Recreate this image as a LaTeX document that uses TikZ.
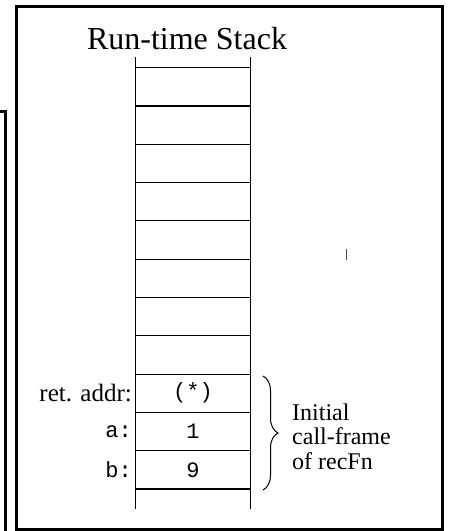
\documentclass[tikz,border=0pt]{standalone}
\usepackage{fontspec}
\setmainfont{Liberation Serif}
\setmonofont{Liberation Mono}
\usetikzlibrary{decorations.pathreplacing}
\tikzset{
    frame/.style={line width=3pt},
    ladder/.style={line width=1.1pt},
    slot/.style={font=\ttfamily\fontsize{22}{24}\selectfont},
    varname/.style={anchor=east,font=\ttfamily\fontsize{22}{24}\selectfont,inner sep=1pt},
    retname/.style={anchor=east,font=\fontsize{25}{28}\selectfont,inner sep=1pt},
    note/.style={anchor=base west,align=left,font=\fontsize{24}{24.5}\selectfont,inner sep=0pt}
}

\begin{document}
\begin{tikzpicture}[x=1pt,y=-1pt]
  \useasboundingbox (0,0) rectangle (450,531);
  % frames
  \draw[frame] (0,111) -- (5.5,111) -- (5.5,535);
  \draw[frame] (16.5,6.5) rectangle (442.5,529.5);

  \node[font=\fontsize{32}{36}\selectfont,anchor=base] (title) at (187,49) {Run-time Stack};

  % the stack
  \coordinate (stl) at (135.3,57);
  \coordinate (str) at (250.7,57);
  \coordinate (sbl) at (135.3,509);
  \coordinate (sbr) at (250.7,509);
  \draw[ladder] (stl) -- (sbl);
  \draw[ladder] (str) -- (sbr);
  \foreach \k in {0,...,11}
    \draw[ladder] (135.3,67.7+38.3*\k) -- (250.7,67.7+38.3*\k);

  \node[slot] (ret) at (193,393.3) {(*)};
  \node[slot] (va) at (193,431.6) {1};
  \node[slot] (vb) at (193,469.9) {9};

  \node[retname] (lret) at (133,393.3) {ret. addr:};
  \node[varname] (la) at (133,431.6) {a:};
  \node[varname] (lb) at (133,469.9) {b:};

  \coordinate (btop) at (263,376);
  \coordinate (bbot) at (263,490);
  \draw[line width=1pt,decorate,decoration={brace,amplitude=15pt}] (btop) -- (bbot);
  \node[note] (frm) at (292,469) {Initial\\call-frame\\of recFn};

  \draw[line width=1pt,black!70] (346.7,249) -- (346.7,260);
\end{tikzpicture}
\end{document}
